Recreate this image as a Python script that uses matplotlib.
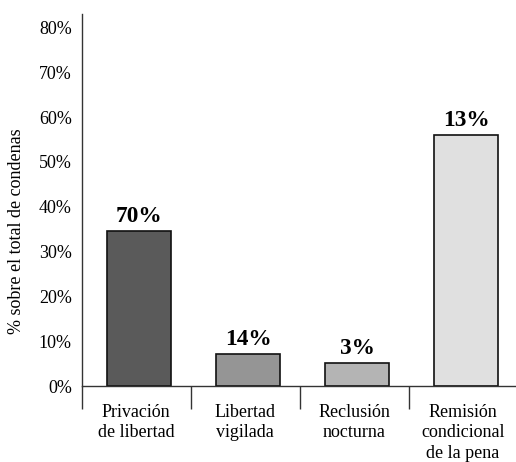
import numpy as np
import matplotlib
matplotlib.use("Agg")
import matplotlib.pyplot as plt
from matplotlib.ticker import FuncFormatter, FixedLocator

categories = ["Privación\nde libertad", "Libertad\nvigilada", "Reclusión\nnocturna",
              "Remisión\ncondicional\nde la pena"]
bar_heights = [34.6, 7.1, 5.1, 55.9]
bar_labels = ["70%", "14%", "3%", "13%"]
bar_colors = ["#5a5a5a", "#959595", "#b4b4b4", "#e0e0e0"]
yticks = [0, 10, 20, 30, 40, 50, 60, 70, 80]

plt.rcParams["font.family"] = ["Liberation Serif", "DejaVu Serif"]

fig = plt.figure(figsize=(5.16, 4.62), dpi=100)
ax = fig.add_axes([0.158, 0.1645, 0.845, 0.8052])

x = np.arange(len(categories))
bars = ax.bar(x + 0.03, bar_heights, width=0.59, color=bar_colors,
              edgecolor="#111111", linewidth=1.2)

for b, lab in zip(bars, bar_labels):
    ax.annotate(lab, (b.get_x() + b.get_width() / 2, b.get_height()),
                xytext=(0, 3), textcoords="offset points", ha="center", va="bottom",
                fontsize=16.8, fontweight="bold")

ax.set_xlim(-0.5, len(categories) - 0.5)
ax.set_ylim(0, 83)
ax.set_yticks(yticks)
ax.yaxis.set_major_formatter(FuncFormatter(lambda v, p: f"{int(v)}%"))
ax.tick_params(axis="y", length=0, pad=7, labelsize=13)

ax.set_xticks(x)
ax.set_xticklabels(categories, fontsize=13, linespacing=1.25)
ax.xaxis.set_minor_locator(FixedLocator(np.arange(len(categories)) - 0.5))
ax.tick_params(axis="x", which="major", length=0, pad=13)
ax.tick_params(axis="x", which="minor", length=16.5, width=1.0, color="#333333")

ax.set_ylabel("% sobre el total de condenas", fontsize=13)
ax.yaxis.set_label_coords(-0.13, 0.417)

for s in ["top", "right"]:
    ax.spines[s].set_visible(False)
for s in ["left", "bottom"]:
    ax.spines[s].set_color("#333333")
    ax.spines[s].set_linewidth(1.0)

fig.savefig("out.png", dpi=100)
